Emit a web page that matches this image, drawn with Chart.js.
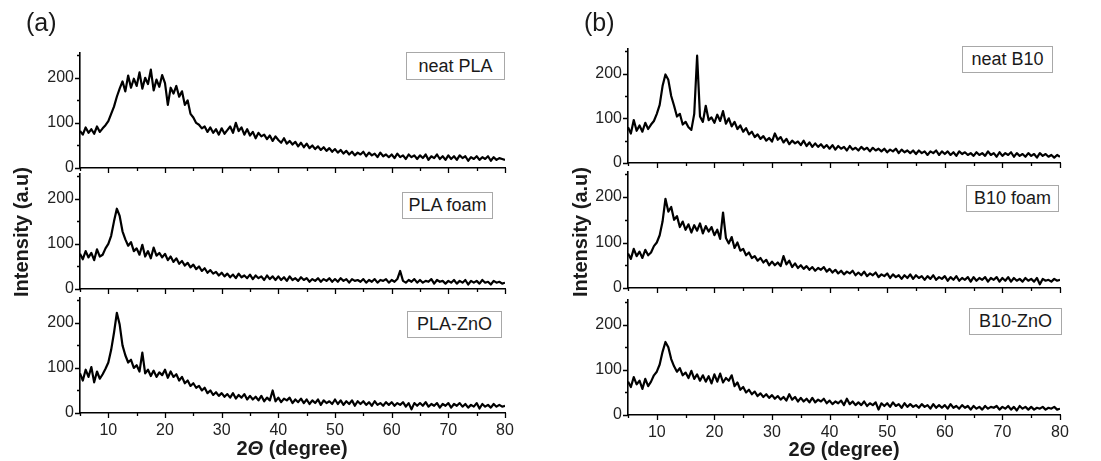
<!DOCTYPE html>
<html>
<head>
<meta charset="utf-8">
<script src="https://cdn.jsdelivr.net/npm/chart.js@4"></script>
<style>
  body { margin: 0; background: #fff; }
  #page { position: relative; width: 1101px; height: 461px; overflow: hidden; background: #fff; font-family: "Liberation Sans", Arial, sans-serif; color: #1a1a1a; }
  canvas { position: absolute; left: 0; top: 0; }
  .tag { position: absolute; font-size: 25px; }
  .box { position: absolute; border: 1px solid #a8a8a8; background: #fff; font-size: 18px; text-align: center; box-sizing: border-box; }
  .ytitle { position: absolute; font-size: 20px; font-weight: bold; transform: translate(-50%, -50%) rotate(-90deg); white-space: nowrap; }
  .xtitle { position: absolute; font-size: 20px; font-weight: bold; transform: translate(-50%, -50%); white-space: nowrap; }
</style>
</head>
<body>
<div id="page">
  <canvas id="a1" width="1101" height="461"></canvas>
  <canvas id="a2" width="1101" height="461"></canvas>
  <canvas id="a3" width="1101" height="461"></canvas>
  <canvas id="b1" width="1101" height="461"></canvas>
  <canvas id="b2" width="1101" height="461"></canvas>
  <canvas id="b3" width="1101" height="461"></canvas>

  <div class="tag" style="left:26px;top:8px;">(a)</div>
  <div class="tag" style="left:584px;top:8px;">(b)</div>

  <div class="ytitle" style="left:21px;top:232px;">Intensity (a.u)</div>
  <div class="ytitle" style="left:580px;top:232px;">Intensity (a.u)</div>
  <div class="xtitle" style="left:292px;top:448px;">2<i>&Theta;</i> (degree)</div>
  <div class="xtitle" style="left:844px;top:449px;">2<i>&Theta;</i> (degree)</div>
</div>

<script>
// 2theta scan: 5 to 80 degrees, 0.5 degree step
var angleStart = 5;
var angleStep = 0.5;

var xTicks = [10, 20, 30, 40, 50, 60, 70, 80];
var yTicks = [0, 100, 200];

var neatPLA = [
  82, 74, 90, 78, 86, 76, 92, 80, 88, 95,
  104, 120, 136, 158, 176, 192, 170, 205, 178, 198,
  182, 212, 176, 200, 186, 218, 172, 196, 180, 206,
  188, 140, 178, 165, 182, 158, 170, 140, 150, 120,
  112, 100, 96, 88, 92, 80, 90, 78, 86, 74,
  88, 76, 84, 92, 78, 100, 82, 90, 74, 86,
  72, 80, 66, 78, 70, 74, 64, 72, 60, 70,
  62, 56, 66, 54, 60, 52, 58, 48, 56, 46,
  54, 44, 50, 42, 48, 40, 46, 38, 44, 36,
  42, 34, 40, 32, 38, 30, 36, 28, 34, 30,
  36, 26, 34, 28, 32, 24, 34, 26, 30, 24,
  30, 22, 32, 24, 28, 20, 30, 24, 28, 20,
  28, 22, 30, 18, 26, 22, 30, 20, 26, 18,
  28, 20, 26, 18, 28, 22, 26, 16, 24, 20,
  26, 18, 24, 20, 26, 16, 24, 18, 22, 20,
  18
];

var plaFoam = [
  78, 66, 84, 70, 80, 64, 88, 72, 76, 90,
  100, 118, 150, 178, 162, 128, 110, 96, 104, 84,
  90, 76, 98, 72, 84, 68, 92, 74, 80, 70,
  78, 64, 72, 60, 68, 56, 62, 52, 58, 48,
  54, 44, 50, 40, 46, 36, 42, 34, 38, 30,
  36, 28, 34, 26, 32, 24, 34, 26, 30, 24,
  32, 22, 30, 24, 28, 20, 30, 22, 28, 20,
  28, 20, 26, 18, 28, 20, 24, 18, 26, 20,
  24, 16, 22, 18, 24, 16, 22, 18, 24, 16,
  22, 16, 24, 18, 22, 14, 22, 18, 20, 16,
  22, 14, 20, 16, 22, 14, 20, 18, 22, 14,
  20, 16, 22, 40, 18, 14, 20, 16, 22, 14,
  20, 14, 18, 16, 22, 12, 20, 16, 18, 12,
  18, 14, 20, 12, 18, 14, 20, 10, 18, 14,
  18, 12, 20, 14, 16, 10, 18, 14, 16, 12,
  14
];

var plaZnO = [
  88, 72, 96, 80, 102, 68, 92, 76, 86, 98,
  112, 140, 178, 222, 196, 150, 128, 112, 118, 100,
  106, 92, 134, 88, 96, 82, 94, 80, 90, 84,
  96, 78, 92, 80, 86, 72, 80, 66, 72, 60,
  66, 56, 60, 50, 56, 44, 50, 40, 46, 38,
  44, 36, 42, 34, 44, 32, 40, 34, 42, 30,
  38, 30, 36, 28, 38, 26, 34, 28, 50, 26,
  34, 24, 32, 28, 34, 22, 30, 24, 32, 22,
  30, 20, 28, 22, 30, 18, 28, 22, 26, 20,
  30, 20, 28, 18, 26, 20, 28, 16, 26, 20,
  26, 18, 24, 16, 26, 18, 22, 16, 24, 18,
  24, 16, 22, 18, 24, 14, 22, 8, 22, 16,
  22, 16, 24, 14, 20, 16, 22, 12, 20, 16,
  22, 12, 20, 16, 22, 14, 20, 12, 18, 14,
  22, 10, 20, 14, 18, 12, 20, 14, 18, 14,
  16
];

var neatB10 = [
  80, 66, 96, 72, 84, 70, 90, 76, 86, 94,
  110, 130, 172, 198, 186, 150, 128, 104, 110, 86,
  92, 80, 74, 110, 240, 104, 92, 128, 96, 102,
  90, 108, 94, 116, 88, 100, 82, 92, 76, 84,
  70, 78, 64, 70, 58, 64, 54, 60, 50, 56,
  48, 66, 52, 58, 46, 54, 42, 50, 44, 48,
  40, 50, 38, 46, 36, 44, 36, 42, 34, 40,
  32, 40, 30, 38, 32, 36, 28, 38, 30, 34,
  28, 36, 30, 34, 26, 34, 28, 32, 26, 32,
  24, 30, 26, 32, 22, 30, 24, 28, 22, 28,
  20, 28, 22, 26, 18, 26, 22, 28, 18, 26,
  20, 26, 18, 24, 16, 26, 20, 24, 18, 22,
  16, 24, 18, 22, 16, 26, 18, 22, 14, 24,
  16, 22, 18, 24, 14, 22, 16, 20, 14, 22,
  16, 20, 12, 22, 16, 20, 14, 18, 12, 18,
  14
];

var b10Foam = [
  76, 64, 86, 70, 80, 66, 84, 72, 78, 92,
  100, 116, 146, 196, 168, 178, 150, 158, 134, 146,
  128, 140, 122, 138, 126, 142, 120, 136, 124, 134,
  116, 128, 108, 166, 110, 98, 112, 88, 100, 82,
  86, 72, 78, 66, 70, 60, 66, 56, 62, 50,
  58, 50, 56, 48, 70, 52, 60, 46, 54, 44,
  50, 42, 48, 40, 46, 38, 44, 40, 46, 36,
  42, 34, 40, 32, 38, 30, 36, 32, 38, 28,
  34, 28, 36, 26, 32, 28, 34, 24, 30, 26,
  32, 22, 30, 24, 28, 20, 28, 22, 30, 20,
  28, 22, 26, 18, 26, 20, 28, 18, 24, 20,
  26, 16, 24, 18, 26, 16, 22, 18, 24, 14,
  24, 16, 22, 18, 24, 14, 22, 18, 24, 14,
  22, 16, 24, 14, 22, 16, 20, 14, 22, 16,
  20, 14, 22, 8, 20, 16, 18, 14, 20, 16,
  18
];

var b10ZnO = [
  74, 62, 84, 68, 76, 58, 80, 64, 74, 88,
  96, 112, 140, 162, 150, 124, 108, 96, 104, 88,
  94, 82, 98, 80, 90, 76, 88, 74, 86, 70,
  90, 74, 92, 72, 82, 76, 88, 64, 72, 56,
  62, 50, 56, 46, 52, 42, 48, 40, 46, 38,
  44, 36, 42, 34, 40, 32, 46, 34, 40, 30,
  38, 30, 36, 28, 38, 28, 34, 30, 36, 26,
  32, 24, 30, 26, 32, 22, 36, 24, 30, 22,
  28, 22, 30, 20, 26, 22, 28, 12, 26, 20,
  26, 18, 28, 20, 24, 16, 26, 18, 24, 18,
  22, 16, 24, 18, 22, 14, 24, 16, 22, 16,
  22, 14, 24, 16, 20, 14, 22, 16, 20, 12,
  20, 14, 18, 12, 20, 14, 18, 16, 20, 12,
  18, 14, 20, 12, 18, 10, 20, 14, 18, 12,
  18, 12, 16, 14, 18, 12, 16, 14, 18, 12,
  14
];

var panelLabels = ["neat PLA", "PLA foam", "PLA-ZnO", "neat B10", "B10 foam", "B10-ZnO"];

var Y_W = 40, X_H = 30;
var tickFont = { family: "Liberation Sans", size: 16 };

// draws outward tick marks, long ones on labelled values
var tickMarks = {
  id: "tickMarks",
  afterDraw: function(chart) {
    var ctx = chart.ctx, xs = chart.scales.x, ys = chart.scales.y;
    ctx.save();
    ctx.strokeStyle = "#000";
    ctx.lineWidth = 1.3;
    ctx.beginPath();
    xs.ticks.forEach(function(t) {
      var px = Math.round(xs.getPixelForValue(t.value)) + 0.5;
      var len = xTicks.indexOf(t.value) >= 0 ? 5 : 3;
      ctx.moveTo(px, ys.bottom);
      ctx.lineTo(px, ys.bottom + len);
    });
    ys.ticks.forEach(function(t) {
      var py = Math.round(ys.getPixelForValue(t.value)) + 0.5;
      var len = yTicks.indexOf(t.value) >= 0 ? 5 : 3;
      ctx.moveTo(xs.left - len, py);
      ctx.lineTo(xs.left, py);
    });
    ctx.stroke();
    ctx.restore();
  }
};

function makePanel(id, values, area, showX, label, box) {
  var pts = values.map(function(v, i) { return { x: angleStart + i * angleStep, y: v }; });
  new Chart(document.getElementById(id), {
    type: "line",
    data: {
      datasets: [{ label: label, data: pts, borderColor: "#000", borderWidth: 2.2, borderJoinStyle: "round", pointRadius: 0, tension: 0 }]
    },
    options: {
      responsive: false,
      animation: false,
      events: [],
      layout: { padding: { left: area.left - Y_W, top: area.top, right: 1101 - area.right, bottom: 461 - area.bottom - X_H } },
      plugins: { legend: { display: false }, tooltip: { enabled: false } },
      scales: {
        x: {
          type: "linear", min: 5, max: 80,
          grid: { display: false, drawTicks: false },
          border: { display: true, color: "#000", width: 1.6 },
          ticks: {
            display: showX, stepSize: 5, includeBounds: false, autoSkip: false, maxRotation: 0,
            padding: 8, color: "#222", font: tickFont,
            callback: function(v) { return xTicks.indexOf(v) >= 0 ? v : ""; }
          },
          afterFit: function(s) { s.height = X_H; }
        },
        y: {
          min: 0, max: 255,
          grid: { display: false, drawTicks: false },
          border: { display: true, color: "#000", width: 1.6 },
          ticks: {
            stepSize: 50, includeBounds: false, padding: 6, color: "#222", font: tickFont,
            callback: function(v) { return yTicks.indexOf(v) >= 0 ? v : ""; }
          },
          afterFit: function(s) { s.width = Y_W; }
        }
      }
    },
    plugins: [tickMarks]
  });
  var d = document.createElement("div");
  d.className = "box";
  d.style.left = box[0] + "px";
  d.style.top = box[1] + "px";
  d.style.width = box[2] + "px";
  d.style.height = box[3] + "px";
  d.style.lineHeight = (box[3] - 2) + "px";
  d.textContent = label;
  document.getElementById("page").appendChild(d);
}

makePanel("a1", neatPLA, { left: 80, right: 505, top: 53, bottom: 168 }, false, panelLabels[0], [406, 52, 99, 28]);
makePanel("a2", plaFoam, { left: 80, right: 505, top: 174, bottom: 289 }, false, panelLabels[1], [402, 192, 91, 27]);
makePanel("a3", plaZnO, { left: 80, right: 505, top: 298, bottom: 413 }, true, panelLabels[2], [407, 311, 95, 27]);
makePanel("b1", neatB10, { left: 628, right: 1060, top: 49, bottom: 163 }, false, panelLabels[3], [962, 46, 91, 27]);
makePanel("b2", b10Foam, { left: 628, right: 1060, top: 172, bottom: 288 }, false, panelLabels[4], [966, 185, 93, 27]);
makePanel("b3", b10ZnO, { left: 628, right: 1060, top: 300, bottom: 415 }, true, panelLabels[5], [969, 308, 93, 27]);
</script>
</body>
</html>
